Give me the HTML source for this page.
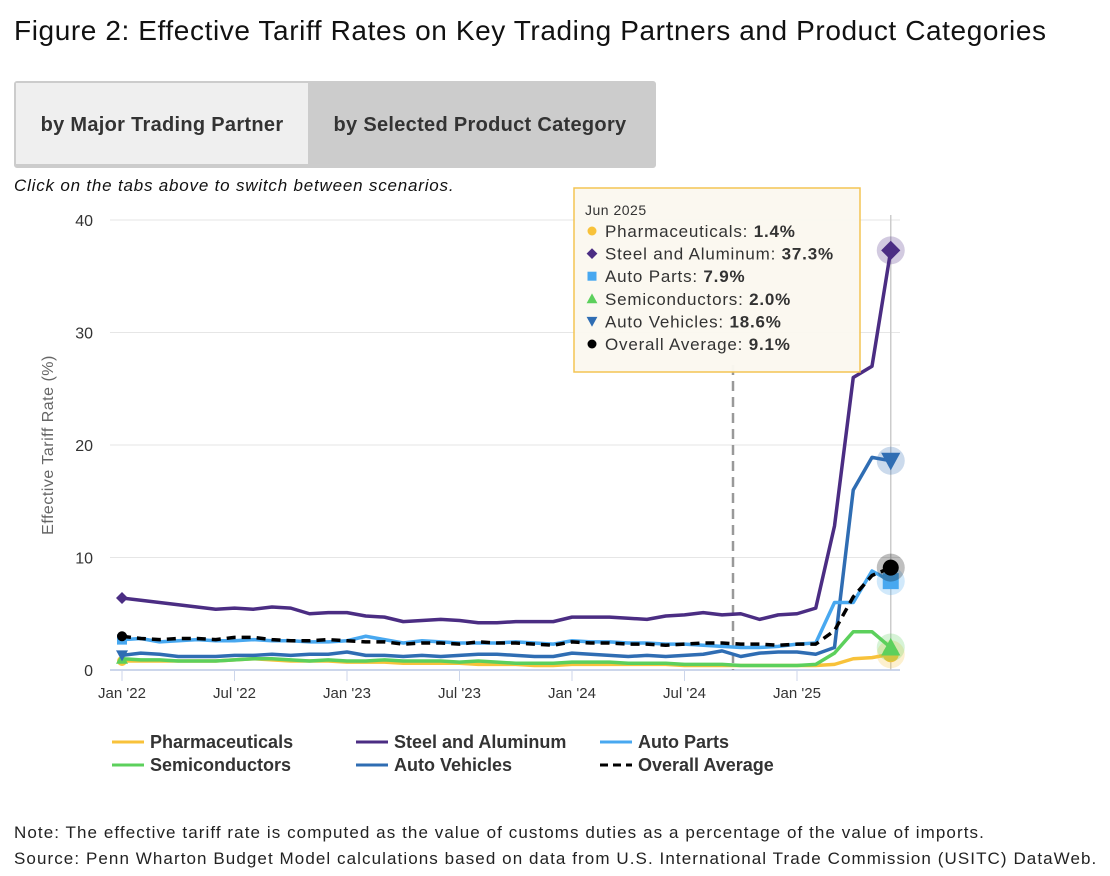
<!DOCTYPE html>
<html><head><meta charset="utf-8"><style>
body{margin:0;width:1110px;height:876px;background:#fff;font-family:"Liberation Sans",sans-serif;position:relative;overflow:hidden}
.abs{position:absolute;white-space:nowrap}
</style></head><body>
<div class="abs" style="left:14px;top:15px;font-size:28px;letter-spacing:0.6px;color:#111">Figure 2: Effective Tariff Rates on Key Trading Partners and Product Categories</div>
<div class="abs" style="left:14px;top:81px;width:638px;height:83px;border:2px solid #ccc;border-radius:3px;background:#ccc"></div>
<div class="abs" style="left:16px;top:83px;width:292px;height:81px;background:#efefef;font-size:20px;letter-spacing:0.3px;font-weight:bold;color:#333;line-height:84px;text-align:center">by Major Trading Partner</div>
<div class="abs" style="left:308px;top:83px;width:344px;height:81px;font-size:20px;letter-spacing:0.3px;font-weight:bold;color:#333;line-height:84px;text-align:center">by Selected Product Category</div>
<div class="abs" style="left:14px;top:176px;font-size:17px;letter-spacing:0.8px;font-style:italic;color:#111">Click on the tabs above to switch between scenarios.</div>
<svg class="abs" style="left:0;top:0" width="1110" height="876" id="chart"></svg>
<div class="abs" style="left:14px;top:823px;font-size:17px;letter-spacing:1.08px;color:#222">Note: The effective tariff rate is computed as the value of customs duties as a percentage of the value of imports.</div>
<div class="abs" style="left:14px;top:849px;font-size:17px;letter-spacing:1.08px;color:#222">Source: Penn Wharton Budget Model calculations based on data from U.S. International Trade Commission (USITC) DataWeb.</div>
<script>
const xLabels=["Jan '22","Jul '22","Jan '23","Jul '23","Jan '24","Jul '24","Jan '25"];
const yTicks=[0,10,20,30,40];
const pharma=[0.8,0.8,0.8,0.8,0.8,0.8,0.9,1.0,0.9,0.8,0.8,0.8,0.7,0.7,0.7,0.6,0.6,0.6,0.6,0.5,0.5,0.5,0.4,0.4,0.5,0.5,0.5,0.5,0.5,0.5,0.4,0.4,0.4,0.4,0.4,0.4,0.4,0.4,0.5,1.0,1.1,1.4];
const steel=[6.4,6.2,6.0,5.8,5.6,5.4,5.5,5.4,5.6,5.5,5.0,5.1,5.1,4.8,4.7,4.3,4.4,4.5,4.4,4.2,4.2,4.3,4.3,4.3,4.7,4.7,4.7,4.6,4.5,4.8,4.9,5.1,4.9,5.0,4.5,4.9,5.0,5.5,12.8,26,27,37.3];
const parts=[2.7,2.8,2.5,2.6,2.7,2.6,2.6,2.7,2.6,2.6,2.5,2.5,2.6,3.0,2.7,2.4,2.6,2.5,2.4,2.4,2.4,2.5,2.4,2.3,2.6,2.5,2.5,2.4,2.4,2.3,2.3,2.2,2.1,2.0,2.0,2.1,2.3,2.4,6.0,6.0,8.8,7.9];
const semis=[1.0,0.9,0.9,0.8,0.8,0.8,0.9,1.0,1.0,0.9,0.8,0.9,0.8,0.8,0.9,0.8,0.8,0.8,0.7,0.8,0.7,0.6,0.6,0.6,0.7,0.7,0.7,0.6,0.6,0.6,0.5,0.5,0.5,0.4,0.4,0.4,0.4,0.5,1.5,3.4,3.4,2.0];
const vehicles=[1.3,1.5,1.4,1.2,1.2,1.2,1.3,1.3,1.4,1.3,1.4,1.4,1.6,1.3,1.3,1.2,1.3,1.2,1.3,1.4,1.4,1.3,1.2,1.2,1.5,1.4,1.3,1.2,1.3,1.2,1.3,1.4,1.7,1.2,1.5,1.6,1.6,1.4,2.0,16,18.9,18.6];
const overall=[3.0,2.8,2.7,2.8,2.8,2.7,2.9,2.9,2.7,2.6,2.6,2.7,2.6,2.5,2.5,2.3,2.4,2.4,2.3,2.5,2.4,2.4,2.3,2.2,2.5,2.4,2.4,2.3,2.3,2.2,2.3,2.4,2.4,2.3,2.3,2.2,2.3,2.3,3.5,6.5,8.4,9.1];
const svg=document.getElementById('chart');const NS='http://www.w3.org/2000/svg';
const X=m=>122+m*18.75, Y=v=>670-v*11.25;
function el(t,a,txt){const e=document.createElementNS(NS,t);for(const k in a)e.setAttribute(k,a[k]);if(txt!==undefined)e.textContent=txt;svg.appendChild(e);return e;}
function marker(shape,x,y,r,c){
 if(shape==='circle')return el('circle',{cx:x,cy:y,r:r,fill:c});
 let pts;
 if(shape==='diamond')pts=[[x,y-r*1.2],[x+r*1.2,y],[x,y+r*1.2],[x-r*1.2,y]];
 else if(shape==='square')pts=[[x-r,y-r],[x+r,y-r],[x+r,y+r],[x-r,y+r]];
 else if(shape==='tri')pts=[[x,y-r*1.2],[x+r*1.2,y+r],[x-r*1.2,y+r]];
 else pts=[[x-r*1.2,y-r],[x+r*1.2,y-r],[x,y+r*1.2]];
 return el('polygon',{points:pts.map(p=>p.join(',')).join(' '),fill:c});}
yTicks.forEach(v=>{const g=el('line',{x1:110,x2:900,y1:Y(v),y2:Y(v),stroke:v?'#e6e6e6':'#ccd6eb','stroke-width':v?1:2});

const t=el('text',{x:93,y:Y(v)+6,'text-anchor':'end','font-size':16,fill:'#333'},v);
});
xLabels.forEach((l,i)=>{const m=i*6;const tk=el('line',{x1:X(m),x2:X(m),y1:671,y2:681,stroke:'#ccd6eb'});

const t=el('text',{x:X(m),y:698,'text-anchor':'middle','font-size':15,fill:'#333'},l);
});
const yt=el('text',{x:53,y:445,'text-anchor':'middle','font-size':16,fill:'#666','letter-spacing':0.5,transform:'rotate(-90 53 445)'},'Effective Tariff Rate (%)');

const ch=el('line',{x1:X(41),x2:X(41),y1:215,y2:670,stroke:'#ccc','stroke-width':1.5});

const dl=el('line',{x1:733,x2:733,y1:365,y2:670,stroke:'#999','stroke-width':2.5,'stroke-dasharray':'10,6'});

const series=[['pharmaceuticals',pharma,'#f8c23a','','circle'],['semiconductors',semis,'#5cd05c','','tri'],['auto-vehicles',vehicles,'#2f6db3','','dtri'],['auto-parts',parts,'#48a8f0','','square'],['overall-average',overall,'#000','9,6','circle'],['steel-and-aluminum',steel,'#4b2d83','','diamond']];
series.forEach(([n,d,c,da,sh])=>{const p=el('polyline',{points:d.map((v,i)=>X(i)+','+Y(v)).join(' '),fill:'none',stroke:c,'stroke-width':3.5,'stroke-dasharray':da,'stroke-linejoin':'round'});

const h=el('circle',{cx:X(41),cy:Y(d[41]),r:14,fill:c,opacity:0.25});

const s=marker(sh,X(0),Y(d[0]),5,c);

const e=marker(sh,X(41),Y(d[41]),8,c);
});
const leg=[['Pharmaceuticals','#f8c23a','',112,742],['Steel and Aluminum','#4b2d83','',356,742],['Auto Parts','#48a8f0','',600,742],['Semiconductors','#5cd05c','',112,765],['Auto Vehicles','#2f6db3','',356,765],['Overall Average','#000','8,5',600,765]];
leg.forEach(([n,c,da,x,y])=>{const l=el('line',{x1:x,x2:x+32,y1:y,y2:y,stroke:c,'stroke-width':3,'stroke-dasharray':da});

const t=el('text',{x:x+38,y:y+6,'font-size':18,'font-weight':'bold',fill:'#333'},n);
});
const tb=el('rect',{x:574,y:188,width:286,height:184,fill:'#fbf8f0',stroke:'#f4c34e','stroke-width':1.5,opacity:0.97});

const tt=el('text',{x:585,y:215,'font-size':14,fill:'#333','letter-spacing':0.5},'Jun 2025');

const tips=[['circle','#f8c23a','Pharmaceuticals: ',pharma],['diamond','#4b2d83','Steel and Aluminum: ',steel],['square','#48a8f0','Auto Parts: ',parts],['tri','#5cd05c','Semiconductors: ',semis],['dtri','#2f6db3','Auto Vehicles: ',vehicles],['circle','#000','Overall Average: ',overall]];
tips.forEach(([g,c,n,d],i)=>{const y=237+i*22.6;const s=marker(g,592,y-6,4.5,c);

const t=el('text',{x:605,y:y,'font-size':17,fill:'#333','letter-spacing':0.8});
t.innerHTML=n+'<tspan font-weight="bold">'+d[41].toFixed(1)+'%</tspan>';});
</script>
</body></html>
